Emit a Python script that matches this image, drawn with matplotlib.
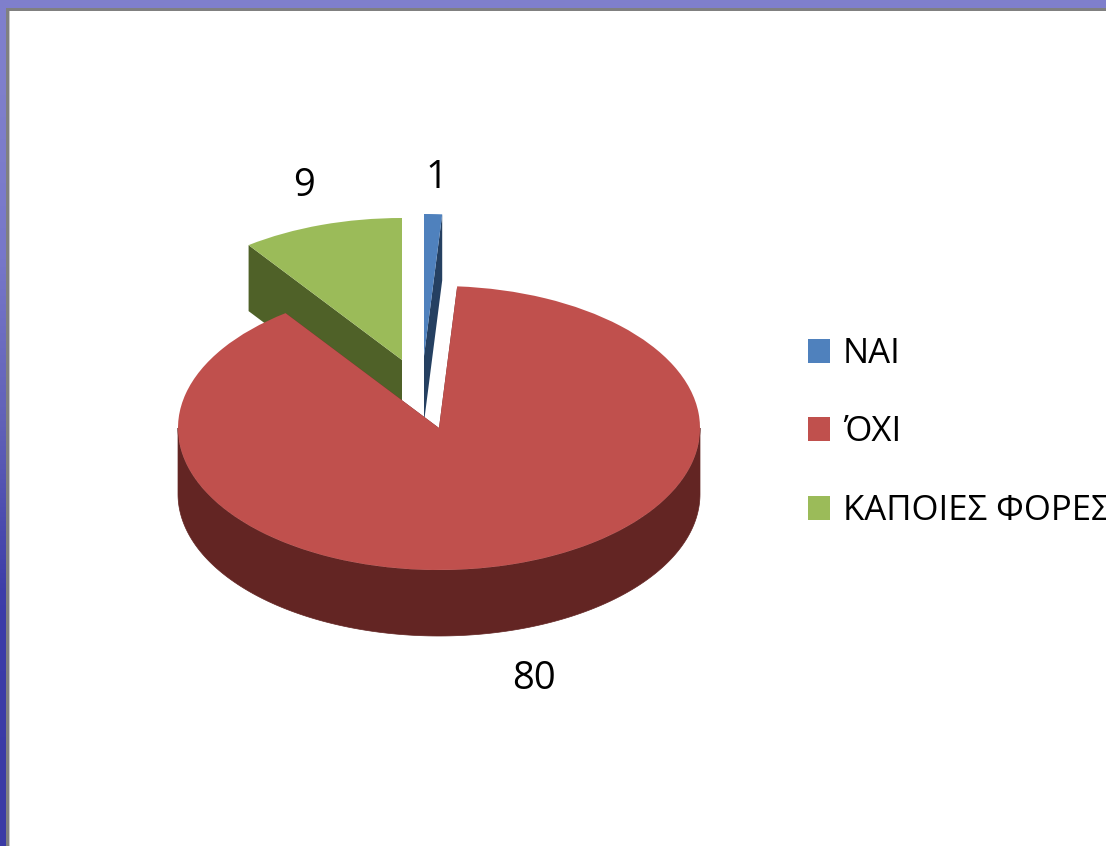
import numpy as np
import matplotlib
matplotlib.use("Agg")
import matplotlib.pyplot as plt
from matplotlib.transforms import Affine2D
from matplotlib.patches import Polygon, Rectangle

labels = ["ΝΑΙ", "ΌΧΙ", "ΚΑΠΟΙΕΣ ΦΟΡΕΣ"]
values = [1, 80, 9]
colors = ["#4f81bd", "#c0504d", "#9bbb59"]
side_colors = ["#254061", "#632523", "#4f6128"]

W, H = 1106, 846
RX, RY, DEPTH = 261, 142, 66
# slice centres in picture pixels (y down), order as in values
centers = [(424, 356), (439, 428), (402, 360)]
label_pos = [(436, 178), (534, 679), (304, 186)]
FONT = "Open Sans"
FS = 25
FS_LABEL = 27.5


def rim(cx, cy, ang, drop=0):
    # point on the squashed circle, ang in degrees, y up
    a = np.radians(ang)
    return np.c_[cx + RX * np.cos(a), cy + RY * np.sin(a) - drop]


def draw_sides(wedge, cx, cy, color, z):
    t1, t2 = wedge.theta1, wedge.theta2
    # cut faces
    for ang in (t1, t2):
        p = rim(cx, cy, np.array([ang]))[0]
        quad = [(cx, cy), p, (p[0], p[1] - DEPTH), (cx, cy - DEPTH)]
        ax.add_patch(Polygon(quad, fc=color, ec="none", zorder=z))
    # outer band, front half only
    for k in range(-1, 2):
        lo = max(t1, 180 + 360 * k)
        hi = min(t2, 360 + 360 * k)
        if hi <= lo:
            continue
        arc = np.linspace(lo, hi, 200)
        pts = np.vstack([rim(cx, cy, arc), rim(cx, cy, arc[::-1], DEPTH)])
        ax.add_patch(Polygon(pts, fc=color, ec=color, lw=0.5, zorder=z))


fig = plt.figure(figsize=(W / 100, H / 100), dpi=100)
ax = fig.add_axes([0, 0, 1, 1])

wedges, _ = ax.pie(values, colors=colors, startangle=90, counterclock=False,
                   radius=RX, frame=True)

# slide background behind the white panel
stops = np.array([[0.50, 0.50, 0.80], [0.47, 0.47, 0.79], [0.38, 0.38, 0.72],
                  [0.24, 0.24, 0.66], [0.23, 0.23, 0.65]])
ax.imshow(stops.reshape(-1, 1, 3), extent=(0, W, 0, H), aspect="auto",
          interpolation="bilinear", zorder=0)
ax.add_patch(Rectangle((6, -5), W, H - 8 + 5, fc="#808080", ec="none", zorder=1))
ax.add_patch(Rectangle((9, -5), W, H - 11 + 5, fc="#c8c8c8", ec="none", zorder=1))
ax.add_patch(Rectangle((10, -5), W, H - 11 + 5, fc="white", ec="none", zorder=1))

# back slices first, the big one on top
for i, z in [(2, 3), (0, 4), (1, 5)]:
    cx, cy = centers[i][0], H - centers[i][1]
    draw_sides(wedges[i], cx, cy, side_colors[i], z)
    wedges[i].set_transform(Affine2D().scale(1, RY / RX).translate(cx, cy) + ax.transData)
    wedges[i].set_zorder(z + 0.5)

for (x, y), v in zip(label_pos, values):
    ax.text(x, H - y, str(v), ha="center", va="center", fontsize=FS_LABEL,
            family=FONT, color="black", zorder=8)

leg = ax.legend(wedges, labels, loc="upper left", bbox_to_anchor=(808, H - 337),
                bbox_transform=ax.transData, frameon=False,
                prop={"family": FONT, "size": FS}, handlelength=0.64,
                handleheight=0.67, handletextpad=0.36, labelspacing=1.28,
                borderpad=0, borderaxespad=0)
leg.set_zorder(8)

ax.set_xlim(0, W)
ax.set_ylim(0, H)
ax.axis("off")
fig.savefig("out.png", dpi=100)
plt.close(fig)
